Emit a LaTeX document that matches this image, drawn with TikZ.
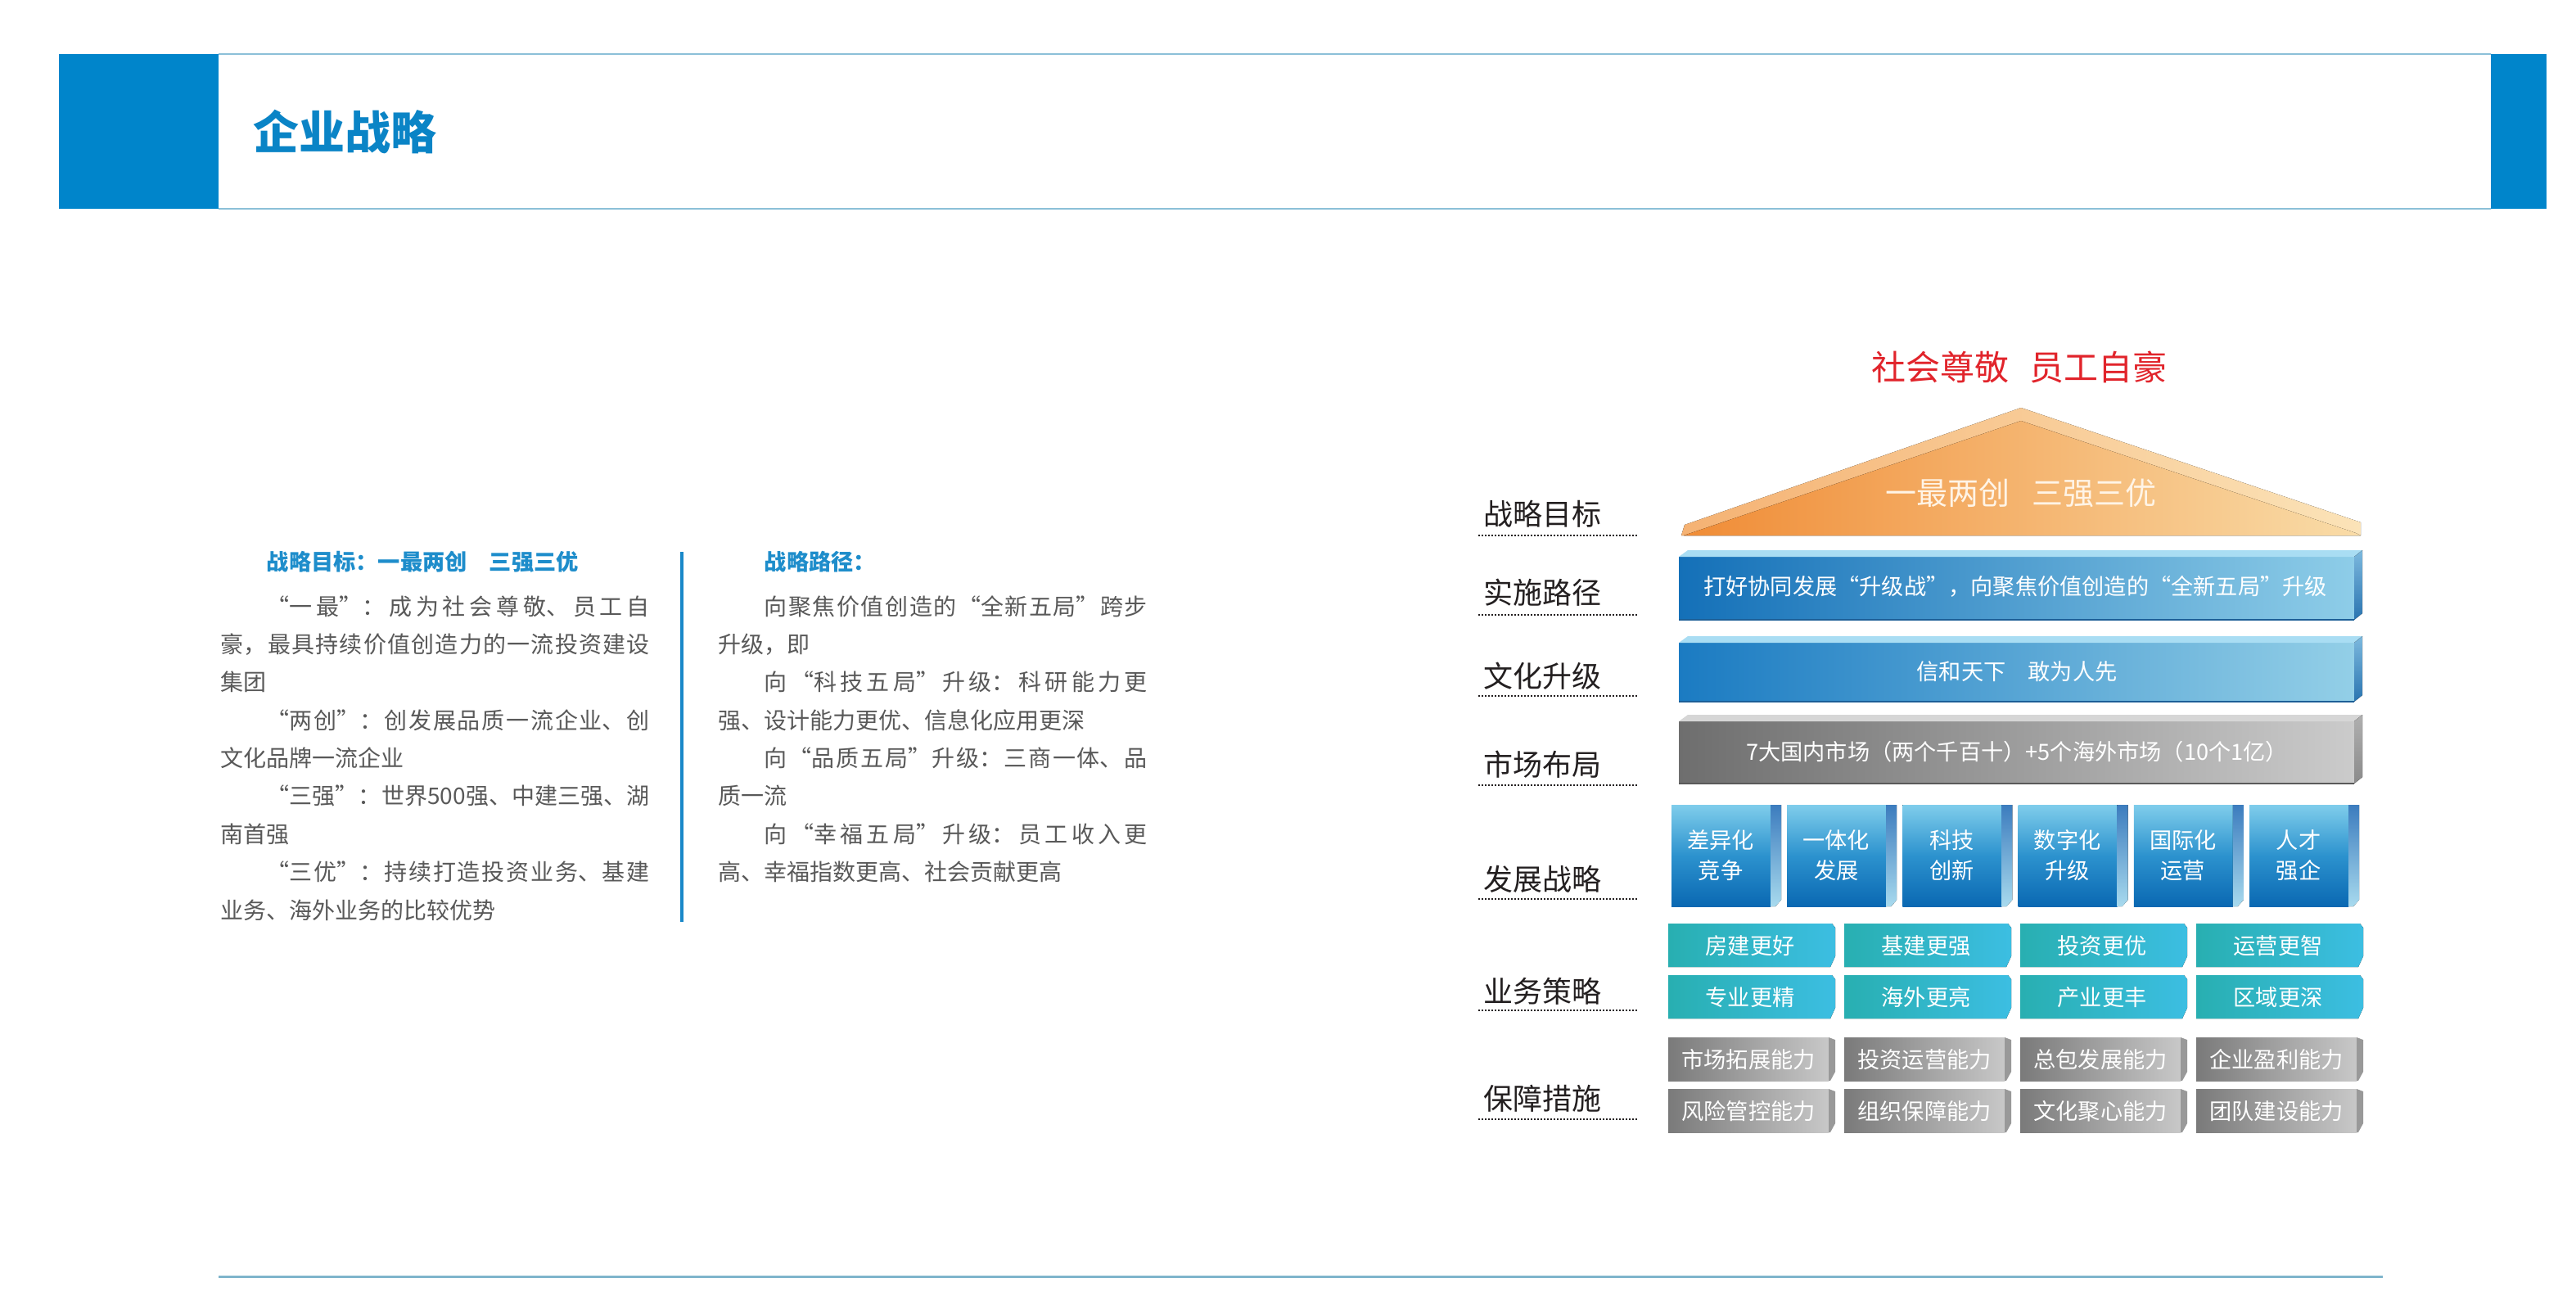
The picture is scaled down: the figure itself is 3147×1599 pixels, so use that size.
\documentclass[tikz,border=0pt]{standalone}
\usepackage{fontspec}
\setmainfont{Noto Sans CJK SC}
\XeTeXlinebreaklocale "zh"
\XeTeXlinebreakskip=0pt plus 3pt
\usetikzlibrary{calc}
\definecolor{hdrblue}{HTML}{0085CB}
\definecolor{hdrline}{HTML}{8CC0D8}
\definecolor{footline}{HTML}{7FB5CC}
\definecolor{titleblue}{HTML}{0A84C6}
\definecolor{headc}{HTML}{1E8DCB}
\definecolor{bodyc}{HTML}{595959}
\definecolor{divblue}{HTML}{1A88C9}
\definecolor{labelc}{HTML}{231F20}
\definecolor{redc}{HTML}{E1242B}
\definecolor{triL}{HTML}{F08C36}
\definecolor{triR}{HTML}{F9DCA8}
\definecolor{bevL}{HTML}{F5B273}
\definecolor{bevR}{HTML}{FBE3B8}
\definecolor{trtext}{HTML}{FFF4E6}
\definecolor{baL}{HTML}{1470B8}
\definecolor{baR}{HTML}{8ECDE8}
\definecolor{bbL}{HTML}{1B7BC2}
\definecolor{bbR}{HTML}{93CFE7}
\definecolor{btop}{HTML}{A9DDF3}
\definecolor{bsideT}{HTML}{7DB9DE}
\definecolor{bsideB}{HTML}{2A74B0}
\definecolor{bline}{HTML}{1D5F97}
\definecolor{gbL}{HTML}{6E6E6E}
\definecolor{gbR}{HTML}{CBCBCB}
\definecolor{gtop}{HTML}{D6D6D6}
\definecolor{gsideT}{HTML}{B0B0B0}
\definecolor{gsideB}{HTML}{8A8A8A}
\definecolor{gline}{HTML}{5A5A5A}
\definecolor{devT}{HTML}{7FCDEB}
\definecolor{devM}{HTML}{2C92CE}
\definecolor{devB}{HTML}{0A68B2}
\definecolor{devsT}{HTML}{3C7CBE}
\definecolor{devsB}{HTML}{A8DAEE}
\definecolor{tealL}{HTML}{28AFB1}
\definecolor{tealR}{HTML}{3CBEE2}
\definecolor{grayL}{HTML}{7A7A7A}
\definecolor{grayR}{HTML}{C8C8C8}
\definecolor{grayS}{HTML}{999999}
\newcommand\jline[1]{\parbox{131pt}{\parfillskip=0pt\relax #1\par}}
\newcommand\mybar[8]{%
  \fill[left color=#3,right color=#4] (2051,#1+8) rectangle (2876,#2);
  \fill[#5] (2051,#1+8) -- (2062,#1) -- (2886,#1) -- (2876,#1+8) -- cycle;
  \fill[top color=#6,bottom color=#7] (2876,#1+8) -- (2886,#1) -- (2886,#2-8) -- (2876,#2) -- cycle;
  \draw[#8, line width=0.6pt] (2051,#2) -- (2876,#2);
}
\begin{document}
\begin{tikzpicture}[x=0.25pt,y=-0.25pt,
  bodytext/.style={text=bodyc, font=\fontsize{7}{8}\selectfont, anchor=west, inner sep=0pt},
  headtext/.style={text=headc, font=\fontsize{6.8}{8}\selectfont\bfseries, anchor=west, inner sep=0pt},
  labeltext/.style={text=labelc, font=\fontsize{9}{11}\selectfont, anchor=west, inner sep=0pt},
  labeldots/.style={draw=labelc, line width=0.55pt, dash pattern=on 0.5pt off 0.5pt},
  boxtext/.style={text=white, font=\fontsize{6.8}{9.25}\selectfont, inner sep=0pt, align=center}]
\useasboundingbox (0,0) rectangle (3147,1599);
\fill[white] (0,0) rectangle (3147,1599);
% header
\fill[hdrblue] (72,66) rectangle (267,255);
\fill[hdrblue] (3043,66) rectangle (3111,255);
\draw[hdrline, line width=0.5pt] (267,66) -- (3043,66);
\draw[hdrline, line width=0.5pt] (267,255) -- (3043,255);
\node[anchor=west, inner sep=0pt, text=titleblue, font=\fontsize{14}{16}\selectfont\bfseries] (title) at (309,161) {企业战略};
% footer line
\draw[footline, line width=0.75pt] (267,1559) -- (2911,1559);
% left column
\node[headtext] (h1) at (325,686) {战略目标：一最两创\hspace{1em}三强三优};
\node[bodytext] (a1) at (269,741) {\jline{\hspace*{14pt}“一最”：成为社会尊敬、员工自}};
\node[bodytext] (a2) at (269,787) {\jline{豪，最具持续价值创造力的一流投资建设}};
\node[bodytext] (a3) at (269,833) {集团};
\node[bodytext] (a4) at (269,880) {\jline{\hspace*{14pt}“两创”：创发展品质一流企业、创}};
\node[bodytext] (a5) at (269,926) {文化品牌一流企业};
\node[bodytext] (a6) at (269,972) {\jline{\hspace*{14pt}“三强”：世界500强、中建三强、湖}};
\node[bodytext] (a7) at (269,1019) {南首强};
\node[bodytext] (a8) at (269,1065) {\jline{\hspace*{14pt}“三优”：持续打造投资业务、基建}};
\node[bodytext] (a9) at (269,1112) {业务、海外业务的比较优势};
\draw[divblue, line width=1pt] (833,674) -- (833,1126);
% right column
\node[headtext] (h2) at (933,686) {战略路径：};
\node[bodytext] (b1) at (877,741) {\jline{\hspace*{14pt}向聚焦价值创造的“全新五局”跨步}};
\node[bodytext] (b2) at (877,787) {升级，即};
\node[bodytext] (b3) at (877,833) {\jline{\hspace*{14pt}向“科技五局”升级：科研能力更}};
\node[bodytext] (b4) at (877,880) {强、设计能力更优、信息化应用更深};
\node[bodytext] (b5) at (877,926) {\jline{\hspace*{14pt}向“品质五局”升级：三商一体、品}};
\node[bodytext] (b6) at (877,972) {质一流};
\node[bodytext] (b7) at (877,1019) {\jline{\hspace*{14pt}向“幸福五局”升级：员工收入更}};
\node[bodytext] (b8) at (877,1065) {高、幸福指数更高、社会贡献更高};
% labels
\foreach \n/\ty/\ly/\t in {la/628/654/战略目标, lb/724/751/实施路径, lc/826/850/文化升级, ld/934/959/市场布局, le/1074/1098/发展战略, lf/1211/1234/业务策略, lg/1342/1367/保障措施}{
  \node[labeltext] (\n) at (1812,\ty) {\t};
  \draw[labeldots] (1806,\ly) -- (2002,\ly);
}
% slogan and roof
\node[inner sep=0pt, text=redc, font=\fontsize{10.5}{12}\selectfont] (slogan) at (2467,448) {社会尊敬\hspace{0.6em}员工自豪};
\fill[left color=bevL, right color=bevR] (2054,654) -- (2058,641) -- (2469,498) -- (2884,638) -- (2884,654) -- cycle;
\fill[left color=triL, right color=triR] (2057,654) -- (2469,514) -- (2878,651) -- (2884,654) -- cycle;
\node[inner sep=0pt, text=trtext, font=\fontsize{9.5}{11}\selectfont] (goal) at (2469,602) {一最两创\hspace{0.7em}三强三优};
% bars
\mybar{672}{757}{baL}{baR}{btop}{bsideT}{bsideB}{bline}
\node[boxtext] (bar1) at (2462,716) {打好协同发展“升级战”，向聚焦价值创造的“全新五局”升级};
\mybar{777}{857}{bbL}{bbR}{btop}{bsideT}{bsideB}{bline}
\node[boxtext] (bar2) at (2464,820) {信和天下\hspace{1em}敢为人先};
\mybar{873}{957}{gbL}{gbR}{gtop}{gsideT}{gsideB}{gline}
\node[boxtext] (bar3) at (2464,918) {7大国内市场（两个千百十）+5个海外市场（10个1亿）};
% development strategy boxes
\foreach \i/\a/\b in {0/差异化/竞争, 1/一体化/发展, 2/科技/创新, 3/数字化/升级, 4/国际化/运营, 5/人才/强企}{
  \pgfmathsetmacro\xo{2042+141.2*\i}
  \fill[top color=devT, bottom color=devB, middle color=devM] (\xo,983) rectangle (\xo+121,1107);
  \fill[top color=devsT, bottom color=devsB] (\xo+121,983) -- (\xo+134,983) -- (\xo+134,1099) -- (\xo+127,1107) -- (\xo+121,1107) -- cycle;
  \node[boxtext] (dev\i) at (\xo+60,1045) {\a\\\b};
}
% business strategy boxes
\foreach \c/\r/\t in {0/0/房建更好, 1/0/基建更强, 2/0/投资更优, 3/0/运营更智, 0/1/专业更精, 1/1/海外更亮, 2/1/产业更丰, 3/1/区域更深}{
  \pgfmathsetmacro\xo{2038+215*\c}
  \pgfmathsetmacro\yo{1128+63*\r}
  \fill[left color=tealL, right color=tealR] (\xo,\yo) -- (\xo+200,\yo) -- (\xo+204,\yo+5) -- (\xo+204,\yo+40) -- (\xo+198,\yo+53) -- (\xo,\yo+53) -- cycle;
  \node[boxtext] (t\r\c) at (\xo+100,\yo+27) {\t};
}
% guarantee boxes
\foreach \c/\r/\t in {0/0/市场拓展能力, 1/0/投资运营能力, 2/0/总包发展能力, 3/0/企业盈利能力, 0/1/风险管控能力, 1/1/组织保障能力, 2/1/文化聚心能力, 3/1/团队建设能力}{
  \pgfmathsetmacro\xo{2038+215*\c}
  \pgfmathsetmacro\yo{1267+63*\r}
  \fill[left color=grayL, right color=grayR] (\xo,\yo) rectangle (\xo+196,\yo+53);
  \fill[grayS] (\xo+196,\yo) -- (\xo+204,\yo+3) -- (\xo+204,\yo+42) -- (\xo+198,\yo+53) -- (\xo+196,\yo+53) -- cycle;
  \node[boxtext] (g\r\c) at (\xo+98,\yo+27) {\t};
}
\end{tikzpicture}
\end{document}
